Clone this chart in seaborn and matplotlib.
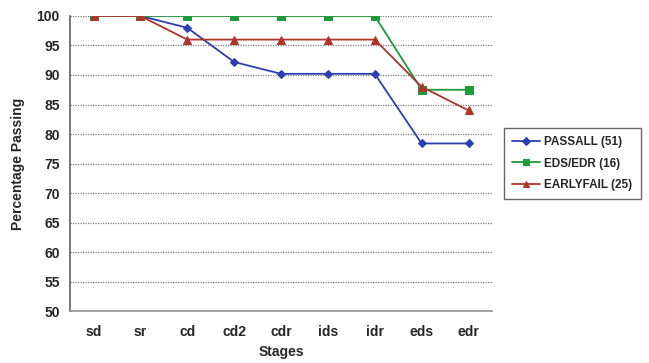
import matplotlib
matplotlib.use("Agg")
import matplotlib.pyplot as plt
import seaborn as sns
import pandas as pd
import numpy as np

stages = ["sd", "sr", "cd", "cd2", "cdr", "ids", "idr", "eds", "edr"]
passall = [100, 100, 98.0, 92.2, 90.2, 90.2, 90.2, 78.4, 78.4]
eds_edr = [100, 100, 100, 100, 100, 100, 100, 87.5, 87.5]
earlyfail = [100, 100, 96, 96, 96, 96, 96, 88, 84]
series_names = ["PASSALL (51)", "EDS/EDR (16)", "EARLYFAIL (25)"]

sns.set_style("white")
plt.rcParams["font.family"] = ["Liberation Sans", "DejaVu Sans"]

fig = plt.figure(figsize=(6.49, 3.63), dpi=100)
ax = fig.add_axes([0.108, 0.143, 0.65, 0.813])

colors = ["#2b3fb0", "#1f9a3a", "#b0342c"]
markers = ["D", "s", "^"]
msizes = [4.5, 6, 6]
xpos = np.arange(len(stages))
for name, vals, c, m, ms in zip(series_names, [passall, eds_edr, earlyfail], colors, markers, msizes):
    df = pd.DataFrame({"x": xpos, "y": vals})
    sns.lineplot(data=df, x="x", y="y", ax=ax, color=c, marker=m, markersize=ms,
                 markeredgecolor=c, linewidth=1.3, label=name, zorder=3)

ax.set_xlim(-0.5, len(stages) - 0.5)
ax.set_ylim(50, 100)
ax.set_yticks(np.arange(50, 101, 5))
ax.set_xticks(xpos)
ax.set_xticklabels(stages)
ax.set_xticks(np.arange(-0.5, len(stages), 1), minor=True)
ax.tick_params(axis="x", which="major", length=0, pad=10, labelsize=10)
ax.tick_params(axis="x", which="minor", length=4, color="#808080", direction="out", width=1)
ax.tick_params(axis="y", which="major", length=4, color="#606060", direction="out", width=1, labelsize=10)
for lbl in ax.get_xticklabels() + ax.get_yticklabels():
    lbl.set_fontweight("bold")
ax.yaxis.grid(True, linestyle=(0, (1, 1)), color="#7f7f7f", linewidth=0.9)
ax.set_axisbelow(True)
for s in ["top", "right"]:
    ax.spines[s].set_visible(False)
ax.spines["left"].set_color("#606060")
ax.spines["left"].set_linewidth(1.2)
ax.spines["bottom"].set_color("#909090")
ax.spines["bottom"].set_linewidth(1.2)
ax.set_xlabel("Stages", fontsize=10, fontweight="bold", labelpad=4)
ax.set_ylabel("Percentage Passing", fontsize=10, fontweight="bold", labelpad=8)

leg = ax.legend(loc="center left", bbox_to_anchor=(1.015, 0.5), frameon=True, fancybox=False,
                edgecolor="#404040", prop={"weight": "bold", "size": 8.5}, handlelength=2.3,
                borderpad=0.7, labelspacing=0.8, handletextpad=0.4, markerscale=0.8)
leg.get_frame().set_linewidth(1.0)

fig.savefig("out.png", dpi=100)
